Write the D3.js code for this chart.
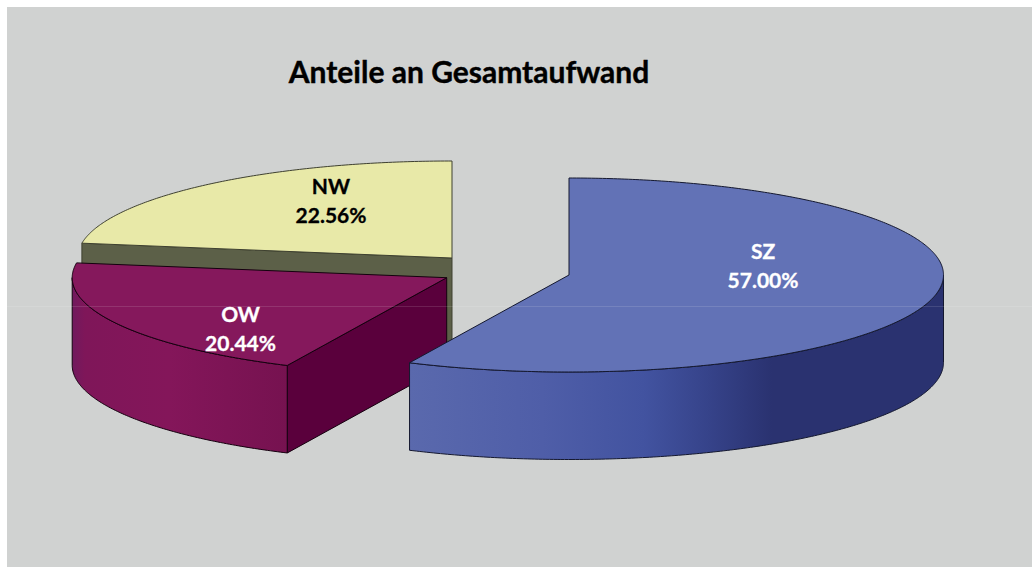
<!DOCTYPE html>
<html><head><meta charset="utf-8">
<script src="https://cdn.jsdelivr.net/npm/d3@7/dist/d3.min.js"></script>
<style>html,body{margin:0;padding:0;background:#fff}svg{display:block}text{font-family:Lato,"Open Sans",sans-serif;font-weight:700}</style>
</head><body><svg id="c" width="1032" height="567"></svg>
<script>
const title = "Anteile an Gesamtaufwand";
const categories = ["SZ", "OW", "NW"];
const shares = [57.00, 20.44, 22.56];

const topColors = ["#6272b6", "#85185c", "#e8e9a8"];
const faceColors = ["#2a3270", "#5a003c", "#5c6048"];
const strokeColors = ["#14182f", "#14000e", "#3e4030"];
const labelColors = ["#ffffff", "#ffffff", "#000000"];
const centres = [[569, 275], [446.7, 277.7], [452, 258]];
const labelAt = [[763, 252], [240.5, 315], [331, 187]];

const rx = 374.5, ry = 97, depth = 87.5;
const svg = d3.select("#c");
svg.append("rect").attr("x", 7).attr("y", 7).attr("width", 1025).attr("height", 560).attr("fill", "#d0d2d1");

const defs = svg.append("defs");
const g1 = defs.append("linearGradient").attr("id", "rim0").attr("gradientUnits", "userSpaceOnUse")
  .attr("x1", 409).attr("x2", 943).attr("y1", 0).attr("y2", 0);
[[0, "#5a69ad"], [0.25, "#4f5ea8"], [0.44, "#4253a0"], [0.56, "#36438a"], [0.68, "#2a3270"], [1, "#2a3270"]]
  .forEach(s => g1.append("stop").attr("offset", s[0]).attr("stop-color", s[1]));
const g2 = defs.append("linearGradient").attr("id", "rim1").attr("gradientUnits", "userSpaceOnUse")
  .attr("x1", 72).attr("x2", 287).attr("y1", 0).attr("y2", 0);
[[0, "#701a5e"], [0.06, "#7f1659"], [0.45, "#84165a"], [1, "#761250"]]
  .forEach(s => g2.append("stop").attr("offset", s[0]).attr("stop-color", s[1]));

const pie = d3.pie().sort(null).startAngle(0).endAngle(2 * Math.PI);
const arcs = pie(shares);
const line = d3.line();

function pt(c, a, dy = 0) { return [c[0] + rx * Math.sin(a), c[1] - ry * Math.cos(a) + dy]; }
function sweep(c, a0, a1, dy = 0) {
  const n = Math.max(2, Math.ceil(Math.abs(a1 - a0) / 0.01));
  return d3.range(n + 1).map(i => pt(c, a0 + (a1 - a0) * i / n, dy));
}

d3.range(arcs.length - 1, -1, -1).forEach(i => {
  const d = arcs[i], c = centres[i], g = svg.append("g");
  const face = a => [c, pt(c, a), pt(c, a, depth), [c[0], c[1] + depth]];
  [[d.startAngle, Math.sin(d.startAngle) < -1e-6], [d.endAngle, Math.sin(d.endAngle) > 1e-6]].forEach(f => {
    if (f[1]) g.append("path").attr("d", line(face(f[0])) + "Z")
      .attr("fill", faceColors[i]).attr("stroke", strokeColors[i]).attr("stroke-width", 1);
  });
  const r0 = Math.max(d.startAngle, Math.PI / 2), r1 = Math.min(d.endAngle, 3 * Math.PI / 2);
  if (r1 > r0) {
    const pts = sweep(c, r0, r1).concat(sweep(c, r1, r0, depth));
    g.append("path").attr("d", line(pts) + "Z")
      .attr("fill", `url(#rim${i})`).attr("stroke", strokeColors[i]).attr("stroke-width", 1);
  }
  const top = [c].concat(sweep(c, d.startAngle, d.endAngle));
  g.append("path").attr("d", line(top) + "Z")
    .attr("fill", topColors[i]).attr("stroke", strokeColors[i]).attr("stroke-width", 1);
});

svg.append("line").attr("x1", 7).attr("x2", 1032).attr("y1", 306.5).attr("y2", 306.5)
  .attr("stroke", "#fff").attr("stroke-opacity", 0.12);

svg.append("text").attr("x", 469).attr("y", 83).attr("text-anchor", "middle")
  .attr("font-size", 30).attr("fill", "#000").attr("stroke", "#000").attr("stroke-width", 0.4).text(title);

categories.forEach((name, i) => {
  const t = svg.append("text").attr("text-anchor", "middle").attr("fill", labelColors[i])
    .attr("stroke", labelColors[i]).attr("stroke-width", 0.3).attr("font-size", 21);
  t.append("tspan").attr("x", labelAt[i][0]).attr("y", labelAt[i][1] + 7).text(name);
  t.append("tspan").attr("x", labelAt[i][0]).attr("y", labelAt[i][1] + 36).text(d3.format(".2f")(shares[i]) + "%");
});
</script></body></html>
